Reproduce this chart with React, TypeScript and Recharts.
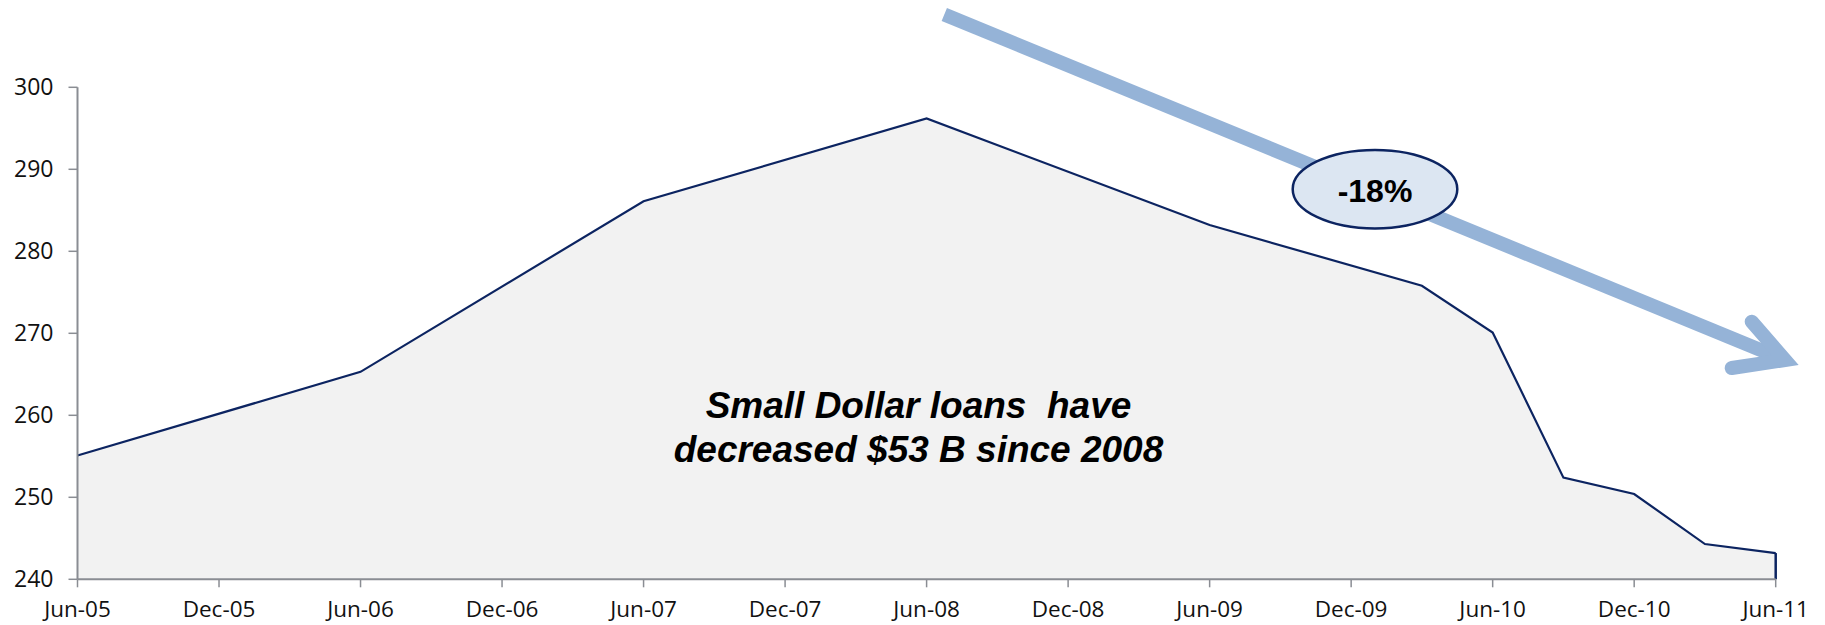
import React from 'react';
import { AreaChart, Area, XAxis, YAxis, ReferenceLine } from 'recharts';

const pointDates = ['Jun-05', 'Jun-06', 'Jun-07', 'Jun-08', 'Jun-09', 'Mar-10', 'Jun-10', 'Sep-10', 'Dec-10', 'Mar-11', 'Jun-11'];
const loans = [255.1, 265.3, 286.1, 296.2, 283.2, 275.8, 270.1, 252.4, 250.4, 244.3, 243.2];
const tickLabels = ['Jun-05', 'Dec-05', 'Jun-06', 'Dec-06', 'Jun-07', 'Dec-07', 'Jun-08', 'Dec-08', 'Jun-09', 'Dec-09', 'Jun-10', 'Dec-10', 'Jun-11'];
const yTicks = [240, 250, 260, 270, 280, 290, 300];
const annotationLines = ['Small Dollar loans  have', 'decreased $53 B since 2008'];
const changeLabel = '-18%';

const MONTHS = ['Jan', 'Feb', 'Mar', 'Apr', 'May', 'Jun', 'Jul', 'Aug', 'Sep', 'Oct', 'Nov', 'Dec'];
const toMonthIndex = (label: string) => {
  const [mon, yy] = label.split('-');
  return (Number(yy) - 5) * 12 + MONTHS.indexOf(mon) - 5;
};

const data = pointDates.map((d, i) => ({ m: toMonthIndex(d), v: loans[i] }));
const xTicks = tickLabels.map(toMonthIndex);
const lastPoint = data[data.length - 1];

const AXIS_COLOR = '#8a8d93';
const LINE_COLOR = '#0c2461';
const ARROW_COLOR = '#95b3d7';

export default function App() {
  return (
    <div style={{ position: 'absolute', left: 0, top: 0, width: 1825, height: 625, background: '#fff' }}>
      <AreaChart
        width={1825}
        height={625}
        data={data}
        margin={{ top: 87.3, right: 49.3, bottom: 0, left: 0 }}
      >
        <XAxis
          type="number"
          dataKey="m"
          domain={[0, 72]}
          ticks={xTicks}
          interval={0}
          tickFormatter={(v: number) => tickLabels[xTicks.indexOf(v)]}
          height={45.7}
          tickSize={8}
          tickMargin={14}
          axisLine={{ stroke: AXIS_COLOR, strokeWidth: 2 }}
          tickLine={{ stroke: AXIS_COLOR, strokeWidth: 1.5 }}
          tick={{ fill: '#111', fontSize: 22.5, fontFamily: 'Open Sans' }}
        />
        <YAxis
          type="number"
          domain={[240, 300]}
          ticks={yTicks}
          interval={0}
          width={77.5}
          tickSize={9}
          tickMargin={15}
          axisLine={{ stroke: AXIS_COLOR, strokeWidth: 2 }}
          tickLine={{ stroke: AXIS_COLOR, strokeWidth: 1.5 }}
          tick={{ fill: '#111', fontSize: 23, fontFamily: 'Open Sans' }}
        />
        <Area
          type="linear"
          dataKey="v"
          stroke={LINE_COLOR}
          strokeWidth={2.2}
          fill="#f2f2f2"
          fillOpacity={1}
          dot={false}
          activeDot={false}
          isAnimationActive={false}
        />
        <ReferenceLine
          segment={[{ x: lastPoint.m, y: 240 }, { x: lastPoint.m, y: lastPoint.v }]}
          stroke={LINE_COLOR}
          strokeWidth={2.5}
        />
      </AreaChart>
      <svg
        width={1825}
        height={625}
        style={{ position: 'absolute', left: 0, top: 0, pointerEvents: 'none' }}
      >
        <line x1={944.3} y1={14.5} x2={1785} y2={360} stroke={ARROW_COLOR} strokeWidth={14} />
        <polyline
          points="1751.7,321.7 1785,360 1731.7,368"
          fill="none"
          stroke={ARROW_COLOR}
          strokeWidth={14}
          strokeLinecap="round"
          strokeLinejoin="miter"
        />
        <ellipse cx={1375} cy={189.2} rx={82.3} ry={39.2} fill="#dce6f2" stroke="#0c2461" strokeWidth={2.5} />
        <text
          x={1375}
          y={190.5}
          textAnchor="middle"
          dominantBaseline="central"
          fontFamily="Liberation Sans, Arial, sans-serif"
          fontWeight="bold"
          fontSize={32}
          fill="#000"
        >
          {changeLabel}
        </text>
        {annotationLines.map((t, i) => (
          <text
            key={i}
            x={918.5}
            y={418 + i * 44}
            textAnchor="middle"
            fontFamily="Liberation Sans, Arial, sans-serif"
            fontWeight="bold"
            fontStyle="italic"
            fontSize={37}
            fill="#000"
            style={{ whiteSpace: 'pre' }}
          >
            {t}
          </text>
        ))}
      </svg>
    </div>
  );
}
